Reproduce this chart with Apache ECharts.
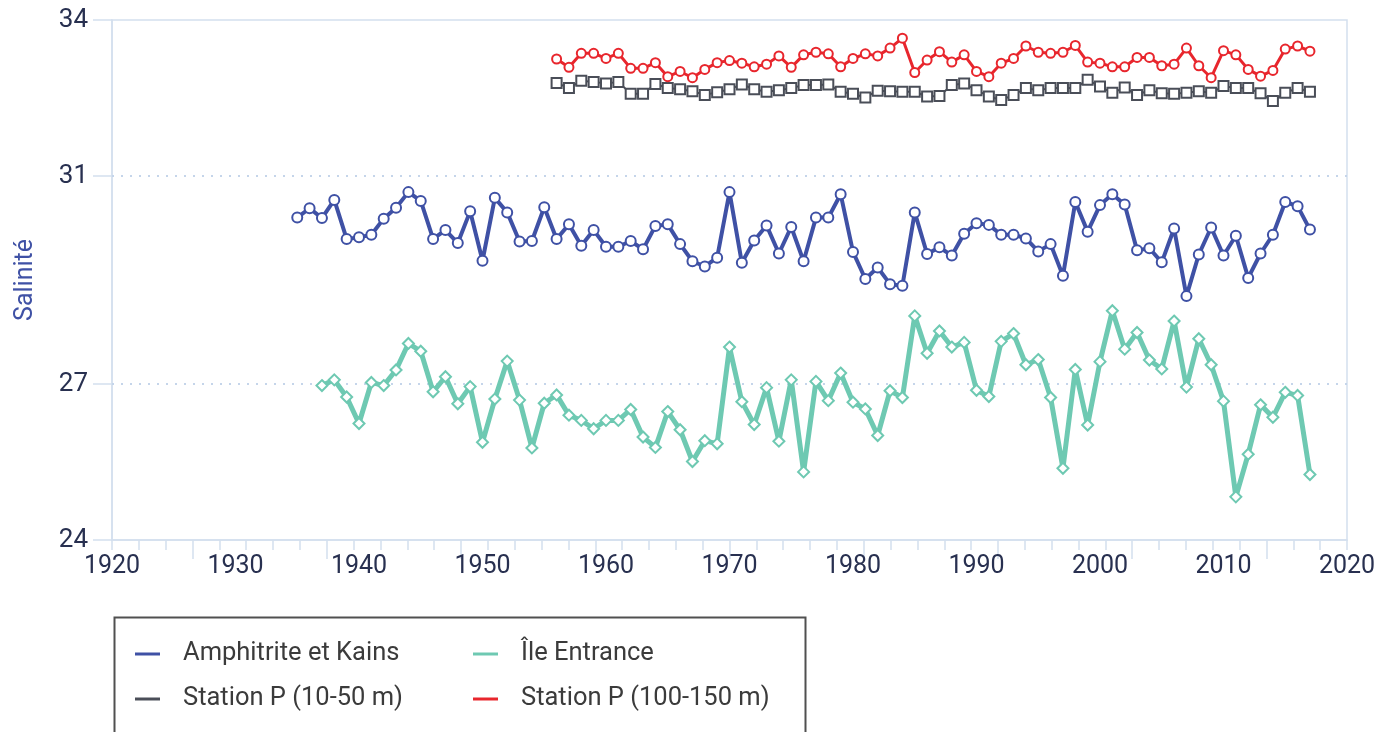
<!DOCTYPE html>
<html>
<head>
<meta charset="utf-8">
<script src="https://cdn.jsdelivr.net/npm/echarts@6/dist/echarts.min.js"></script>
<style>
  html, body { margin: 0; padding: 0; background: #fff; }
  #chart { width: 1389px; height: 732px; }
</style>
</head>
<body>
<div id="chart"></div>
<script>
// series names (legend order)
const seriesNames = ['Amphitrite et Kains', 'Île Entrance', 'Station P (10-50 m)', 'Station P (100-150 m)'];

// Amphitrite et Kains, 1935-2017
const amphitriteStart = 1935;
const amphitrite = [
    30.20, 30.38, 30.19, 30.54, 29.79, 29.82, 29.87, 30.18, 30.39, 30.69,
    30.52, 29.79, 29.96, 29.71, 30.32, 29.37, 30.58, 30.30, 29.74, 29.75,
    30.40, 29.79, 30.07, 29.66, 29.96, 29.64, 29.64, 29.75, 29.59, 30.04,
    30.07, 29.69, 29.36, 29.26, 29.43, 30.69, 29.33, 29.76, 30.05, 29.51,
    30.02, 29.36, 30.20, 30.20, 30.65, 29.54, 29.02, 29.24, 28.92, 28.89,
    30.30, 29.50, 29.63, 29.47, 29.89, 30.09, 30.06, 29.87, 29.87, 29.80,
    29.55, 29.69, 29.08, 30.50, 29.93, 30.44, 30.65, 30.45, 29.57, 29.61,
    29.34, 29.99, 28.69, 29.49, 30.01, 29.47, 29.85, 29.04, 29.51, 29.87,
    30.50, 30.42, 29.97
];

// Île Entrance, 1937-2017
const entranceStart = 1937;
const entrance = [
    26.97, 27.08, 26.75, 26.24, 27.03, 26.97, 27.27, 27.78, 27.63, 26.85,
    27.14, 26.62, 26.95, 25.88, 26.71, 27.44, 26.69, 25.77, 26.63, 26.79,
    26.40, 26.30, 26.14, 26.30, 26.30, 26.51, 25.98, 25.78, 26.47, 26.12,
    25.51, 25.91, 25.85, 27.71, 26.66, 26.22, 26.93, 25.90, 27.08, 25.31,
    27.05, 26.68, 27.21, 26.65, 26.52, 26.01, 26.87, 26.74, 28.31, 27.59,
    28.02, 27.71, 27.80, 26.88, 26.76, 27.82, 27.97, 27.37, 27.47, 26.74,
    25.38, 27.28, 26.21, 27.43, 28.41, 27.67, 27.99, 27.46, 27.29, 28.21,
    26.94, 27.87, 27.37, 26.67, 24.83, 25.65, 26.60, 26.36, 26.84, 26.78,
    25.26
];

// Station P, 1956-2017
const stationStart = 1956;
const stationShallow = [
    32.79, 32.69, 32.83, 32.81, 32.78, 32.81, 32.58, 32.58, 32.77, 32.69,
    32.67, 32.63, 32.56, 32.61, 32.67, 32.76, 32.67, 32.62, 32.65, 32.69,
    32.75, 32.75, 32.76, 32.62, 32.58, 32.51, 32.64, 32.63, 32.62, 32.62,
    32.53, 32.54, 32.75, 32.78, 32.65, 32.53, 32.46, 32.56, 32.69, 32.65,
    32.69, 32.69, 32.69, 32.85, 32.72, 32.60, 32.70, 32.56, 32.65, 32.59,
    32.58, 32.60, 32.63, 32.60, 32.73, 32.69, 32.69, 32.59, 32.44, 32.60,
    32.69, 32.62
];
const stationDeep = [
    33.25, 33.09, 33.36, 33.36, 33.26, 33.36, 33.07, 33.07, 33.18, 32.91,
    33.01, 32.89, 33.05, 33.18, 33.22, 33.17, 33.10, 33.15, 33.31, 33.09,
    33.33, 33.38, 33.35, 33.10, 33.26, 33.35, 33.31, 33.46, 33.65, 32.99,
    33.23, 33.39, 33.19, 33.33, 33.01, 32.91, 33.17, 33.26, 33.50, 33.38,
    33.36, 33.38, 33.51, 33.19, 33.17, 33.10, 33.10, 33.28, 33.28, 33.12,
    33.15, 33.46, 33.12, 32.89, 33.41, 33.33, 33.05, 32.92, 33.03, 33.44,
    33.50, 33.40
];

// axis labels
const yTickValues = [24, 27, 31, 34];
const yGuideValues = [27, 31];
const xMin = 1920, xMax = 2020, xLabelStep = 10;

// the source axis puts its ticks on its own grid, not on the decade labels:
// 46 equal steps across the range, a long tick every 5th starting at step 3
const tickStep = (xMax - xMin) / 46;
const minorTicks = [];
const majorTicks = [];
for (let i = 0; i <= 46; i++) {
    minorTicks.push(xMin + i * tickStep);
    if (i % 5 === 3) majorTicks.push(xMin + i * tickStep);
}

const colors = ['#3f51a5', '#6ec9b2', '#4a4e58', '#e8262d'];
const axisColor = '#d3dfee';
const textColor = '#283050';
const font = 'Roboto';

function toPairs(start, values) {
    return values.map((v, i) => [start + i, v]);
}

const chart = echarts.init(document.getElementById('chart'));

const tickAxis = (ticks, len) => ({
    type: 'value', min: xMin, max: xMax, position: 'bottom',
    axisLine: { show: false },
    axisLabel: { show: false },
    splitLine: { show: false },
    axisTick: { show: true, customValues: ticks, length: len, lineStyle: { color: axisColor, width: 1.5 } }
});

const legendCommon = {
    left: 135,
    padding: 0,
    icon: 'rect',
    itemWidth: 25,
    itemHeight: 3,
    itemGap: 30,
    selectedMode: false,
    itemStyle: { borderWidth: 0 },
    textStyle: { fontFamily: font, fontSize: 25.5, color: '#3b3b3b', width: 260, padding: [0, 0, 0, 18], lineHeight: 30 }
};

const option = {
    animation: false,
    backgroundColor: '#fff',
    grid: {
        left: 112, right: 42, top: 20, bottom: 192,
        outerBoundsMode: 'none',
        show: true, borderColor: axisColor, borderWidth: 1.5
    },
    xAxis: [
        {
            type: 'value', min: xMin, max: xMax, interval: xLabelStep, position: 'bottom',
            axisLine: { show: true, lineStyle: { color: axisColor, width: 1.5 } },
            axisTick: { show: false },
            splitLine: { show: false },
            axisLabel: { color: textColor, fontFamily: font, fontSize: 25, margin: 14, formatter: v => String(v) }
        },
        tickAxis(minorTicks, 10),
        tickAxis(majorTicks, 19)
    ],
    yAxis: {
        type: 'value', min: 24, max: 34,
        name: 'Salinité', nameLocation: 'middle', nameGap: 74,
        nameTextStyle: { color: '#3f51a5', fontFamily: font, fontSize: 25 },
        axisLine: { show: true, lineStyle: { color: axisColor, width: 1.5 } },
        axisTick: { show: true, customValues: yTickValues, length: 19, lineStyle: { color: axisColor, width: 1.5 } },
        axisLabel: { customValues: yTickValues, color: textColor, fontFamily: font, fontSize: 26, margin: 24 },
        splitLine: { show: false }
    },
    legend: [
        Object.assign({}, legendCommon, { top: 639, data: [seriesNames[0], seriesNames[1]] }),
        Object.assign({}, legendCommon, { top: 684, data: [seriesNames[2], seriesNames[3]] })
    ],
    graphic: [{
        type: 'rect', left: 112, top: 615, silent: true,
        shape: { width: 691, height: 200 },
        style: { fill: 'none', stroke: '#505050', lineWidth: 2 }
    }],
    series: [
        {
            name: seriesNames[0], type: 'line', data: toPairs(amphitriteStart, amphitrite),
            symbol: 'emptyCircle', symbolSize: 10, z: 3,
            lineStyle: { color: colors[0], width: 4 },
            itemStyle: { color: colors[0], borderWidth: 2 },
            markLine: {
                silent: true, symbol: 'none', z: 1,
                label: { show: false },
                lineStyle: { color: '#c5d5ea', type: [2, 7], width: 2 },
                data: yGuideValues.map(v => ({ yAxis: v }))
            }
        },
        {
            name: seriesNames[1], type: 'line', data: toPairs(entranceStart, entrance),
            symbol: 'emptyDiamond', symbolSize: 11, z: 3,
            lineStyle: { color: colors[1], width: 5 },
            itemStyle: { color: colors[1], borderWidth: 2 }
        },
        {
            name: seriesNames[2], type: 'line', data: toPairs(stationStart, stationShallow),
            symbol: 'emptyRect', symbolSize: 10, z: 3,
            lineStyle: { color: colors[2], width: 2 },
            itemStyle: { color: colors[2], borderWidth: 2 }
        },
        {
            name: seriesNames[3], type: 'line', data: toPairs(stationStart, stationDeep),
            symbol: 'emptyCircle', symbolSize: 9, z: 3,
            lineStyle: { color: colors[3], width: 3 },
            itemStyle: { color: colors[3], borderWidth: 2 }
        }
    ]
};

chart.setOption(option);
</script>
</body>
</html>
